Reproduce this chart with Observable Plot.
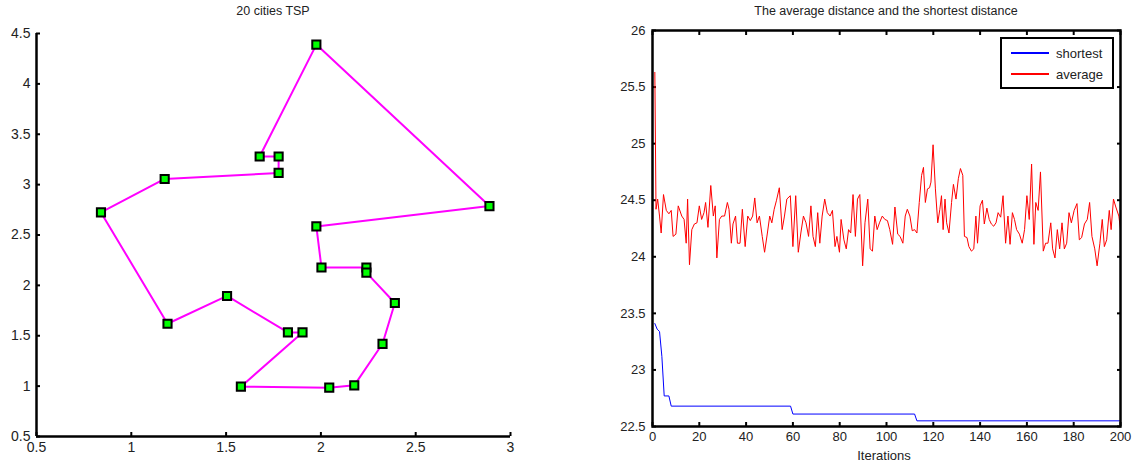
<!DOCTYPE html>
<html>
<head>
<meta charset="utf-8">
<script src="https://cdn.jsdelivr.net/npm/d3@7"></script>
<script src="https://cdn.jsdelivr.net/npm/@observablehq/plot@0.6"></script>
<style>
  html, body { margin: 0; padding: 0; background: #fff; }
  #wrap { position: relative; width: 1136px; height: 466px; font-family: "Liberation Sans", Arial, sans-serif; color: #222; }
  #wrap svg { position: absolute; top: 0; }
  .title { position: absolute; top: 4px; font-size: 12.5px; text-align: center; white-space: nowrap; transform: translateX(-50%); }
  .xlabel { position: absolute; font-size: 13px; white-space: nowrap; transform: translateX(-50%); }
  #legend { position: absolute; left: 1000px; top: 37px; width: 110px; height: 48px; border: 2px solid #000; background: #fff; font-size: 13px; }
  #legend .row { position: absolute; left: 9px; height: 16px; display: flex; align-items: center; }
  #legend .sw { width: 38px; height: 2px; margin-right: 7px; }
</style>
</head>
<body>
<div id="wrap"></div>
<script>
// ---------- Left chart: 20 cities TSP (tour order) ----------
const cityX = [1.976, 2.889, 1.976, 2.003, 2.24, 2.24, 2.39, 2.325, 2.176, 2.044,
               1.578, 1.903, 1.826, 1.505, 1.191, 0.84, 1.176, 1.777, 1.777, 1.677];
const cityY = [4.39, 2.787, 2.585, 2.177, 2.177, 2.127, 1.825, 1.42, 1.008, 0.985,
               0.995, 1.533, 1.533, 1.895, 1.619, 2.724, 3.056, 3.116, 3.279, 3.279];
const tspXTicks = [0.5, 1, 1.5, 2, 2.5, 3];
const tspYTicks = [0.5, 1, 1.5, 2, 2.5, 3, 3.5, 4, 4.5];

// ---------- Right chart: distances per iteration ----------
const shortIter = [1, 2, 3, 4, 5, 7, 8, 59, 60, 112, 113, 200];
const shortVal  = [23.41, 23.36, 23.34, 23.12, 22.77, 22.77, 22.68, 22.68, 22.61, 22.61, 22.55, 22.55];

const avgIter = [1, 1.5, 2.2, 3, 3.7, 4.7, 5.9, 7, 8, 8.8, 10, 11, 12.5, 13.5, 14.4, 15, 15.8, 16.8, 17.9, 19,
  20, 21, 22, 22.7, 23.7, 24.9, 26, 26.8, 27.5, 28.6, 29.6, 30.8, 32, 32.7, 33.7, 34.4, 35.5, 36.3, 37.4, 38.4,
  39.6, 40.7, 41.8, 42.8, 43.7, 44.7, 45.7, 46.9, 47.9, 49.1, 50.1, 51, 52, 53, 54.2, 55.4, 56.4, 57.4, 58.9, 60,
  61.2, 62.3, 63.4, 64.5, 65.6, 66.7, 67.7, 68.6, 69.6, 70.6, 71.5, 72.5, 73.6, 74.7, 75.9, 76.9, 78, 78.8, 79.9, 80.6,
  81.8, 82.8, 83.8, 84.7, 85.7, 86.7, 87.6, 88.6, 89.8, 90.8, 92, 93, 94, 95, 96, 97, 98.2, 99.3, 100.4, 101.4,
  102.6, 103.6, 104.8, 105.8, 107, 108, 108.9, 110, 111, 112, 113, 114, 115, 115.8, 116.6, 117.5, 118.4, 119, 119.9, 120.9,
  121.9, 122.8, 123.5, 124.2, 125, 125.7, 126.7, 127.8, 128.6, 129.7, 130.7, 131.6, 132.6, 133.3, 134.4, 135.2, 136.3, 137.3, 138.2, 138.9,
  140, 141, 141.8, 142.9, 143.9, 144.8, 145.8, 146.8, 147.7, 148.8, 149.8, 150.9, 151.9, 152.8, 153.8, 154.7, 155.6, 156.8, 158, 159,
  160, 161, 162, 163, 163.8, 164.8, 165.8, 167, 168, 169, 170.2, 171, 172, 173, 174, 175, 176, 177, 178, 179,
  180.2, 181.4, 182.4, 183.4, 184.6, 185.8, 186.8, 187.8, 189, 190, 191.2, 192.2, 193.1, 194.1, 195.2, 196, 197, 198, 199.3, 200];
const avgVal = [25.63, 24.42, 24.51, 24.36, 24.21, 24.55, 24.41, 24.38, 24.41, 24.18, 24.2, 24.45, 24.36, 24.33, 24.12, 24.51, 23.93, 24.24, 24.29, 24.30,
  24.45, 24.33, 24.39, 24.48, 24.26, 24.63, 24.36, 24.45, 23.99, 24.33, 24.36, 24.36, 24.48, 24.42, 24.12, 24.29, 24.36, 24.12, 24.12, 24.42,
  24.09, 24.36, 24.32, 24.36, 24.52, 24.30, 24.36, 24.18, 24.04, 24.21, 24.36, 24.30, 24.42, 24.50, 24.61, 24.24, 24.36, 24.51, 24.54, 24.09,
  24.54, 24.04, 24.21, 24.36, 24.30, 24.18, 24.45, 24.18, 24.09, 24.39, 24.12, 24.36, 24.51, 24.39, 24.36, 24.41, 24.09, 24.18, 24.04, 24.33,
  24.15, 24.07, 24.24, 24.21, 24.55, 24.18, 24.51, 24.55, 23.92, 24.30, 24.51, 24.07, 24.05, 24.36, 24.24, 24.30, 24.36, 24.33, 24.32, 24.24,
  24.11, 24.44, 24.20, 24.18, 24.12, 24.36, 24.42, 24.36, 24.23, 24.24, 24.21, 24.48, 24.72, 24.79, 24.48, 24.60, 24.61, 24.66, 24.99, 24.60,
  24.30, 24.42, 24.54, 24.24, 24.51, 24.30, 24.21, 24.48, 24.64, 24.51, 24.69, 24.78, 24.72, 24.18, 24.17, 24.09, 24.05, 24.07, 24.36, 24.12,
  24.45, 24.50, 24.29, 24.43, 24.33, 24.29, 24.27, 24.30, 24.39, 24.35, 24.54, 24.12, 24.36, 24.11, 24.39, 24.33, 24.24, 24.20, 24.12, 24.24,
  24.54, 24.33, 24.82, 24.11, 24.48, 24.41, 24.75, 24.05, 24.12, 24.12, 24.30, 24.07, 23.99, 24.24, 24.07, 24.30, 24.07, 24.12, 24.39, 24.30,
  24.41, 24.47, 24.15, 24.17, 24.29, 24.33, 24.48, 24.18, 24.07, 23.92, 24.12, 24.33, 24.09, 24.15, 24.41, 24.24, 24.51, 24.44, 24.36, 24.24];
const iterTicks = [0, 20, 40, 60, 80, 100, 120, 140, 160, 180, 200];
const distTicks = [22.5, 23, 23.5, 24, 24.5, 25, 25.5, 26];
const seriesNames = ["shortest", "average"];
const seriesColors = ["#0000ff", "#ff0000"];

const wrap = document.getElementById("wrap");

// ----- Left plot -----
const tour = cityX.map((x, i) => ({x, y: cityY[i]}));
const tourClosed = [...tour, tour[0]];

const left = Plot.plot({
  width: 540, height: 466,
  marginLeft: 36, marginRight: 30, marginTop: 33, marginBottom: 30,
  style: {fontFamily: "Liberation Sans, Arial, sans-serif", fontSize: "14px", color: "#222", background: "transparent"},
  x: {domain: [0.5, 3]},
  y: {domain: [0.5, 4.5]},
  marks: [
    Plot.axisX(tspXTicks, {label: null, tickSize: -4, tickPadding: 10, strokeWidth: 2, stroke: "#000", tickFormat: d => String(d)}),
    Plot.axisY(tspYTicks, {label: null, tickSize: -4, tickPadding: 10, strokeWidth: 2, stroke: "#000", tickFormat: d => String(d)}),
    Plot.ruleX([0.5], {stroke: "#000", strokeWidth: 2.5}),
    Plot.ruleY([0.5], {stroke: "#000", strokeWidth: 2.5}),
    Plot.line(tourClosed, {x: "x", y: "y", stroke: "#ff00ff", strokeWidth: 2}),
    Plot.dot(tour, {x: "x", y: "y", symbol: "square", r: 4.6, fill: "#00ff00", stroke: "#000", strokeWidth: 2})
  ]
});
left.style.left = "0px";
wrap.appendChild(left);

// ----- Right plot -----
const shortData = shortIter.map((it, i) => ({it, v: shortVal[i]}));
const avgData = avgIter.map((it, i) => ({it, v: avgVal[i]}));

const right = Plot.plot({
  width: 560, height: 466,
  marginLeft: 76, marginRight: 16, marginTop: 30, marginBottom: 40,
  style: {fontFamily: "Liberation Sans, Arial, sans-serif", fontSize: "13px", color: "#222", background: "transparent"},
  x: {domain: [0, 200]},
  y: {domain: [22.5, 26]},
  marks: [
    Plot.axisX(iterTicks, {anchor: "bottom", label: null, tickSize: -4, tickPadding: 9, strokeWidth: 2, stroke: "#000", tickFormat: d => String(d)}),
    Plot.axisX(iterTicks, {anchor: "top", label: null, tickSize: -4, strokeWidth: 2, stroke: "#000", tickFormat: () => ""}),
    Plot.axisY(distTicks, {anchor: "left", label: null, tickSize: -4, tickPadding: 11, strokeWidth: 2, stroke: "#000", tickFormat: d => String(d)}),
    Plot.axisY(distTicks, {anchor: "right", label: null, tickSize: -4, strokeWidth: 2, stroke: "#000", tickFormat: () => ""}),
    Plot.line(avgData, {x: "it", y: "v", stroke: seriesColors[1], strokeWidth: 1}),
    Plot.line(shortData, {x: "it", y: "v", stroke: seriesColors[0], strokeWidth: 1}),
    Plot.frame({stroke: "#000", strokeWidth: 2.5})
  ]
});
right.style.left = "576px";
wrap.appendChild(right);

// ----- Titles / labels -----
function addText(cls, text, x, y) {
  const d = document.createElement("div");
  d.className = cls; d.textContent = text;
  d.style.left = x + "px";
  if (y !== undefined) d.style.top = y + "px";
  wrap.appendChild(d);
}
addText("title", "20 cities TSP", 273);
addText("title", "The average distance and the shortest distance", 886);
addText("xlabel", "Iterations", 884, 448);

// ----- Legend -----
const leg = document.createElement("div");
leg.id = "legend";
seriesNames.forEach((name, i) => {
  const row = document.createElement("div");
  row.className = "row";
  row.style.top = (6 + i * 21) + "px";
  const sw = document.createElement("div");
  sw.className = "sw"; sw.style.background = seriesColors[i];
  const t = document.createElement("span"); t.textContent = name;
  row.appendChild(sw); row.appendChild(t);
  leg.appendChild(row);
});
wrap.appendChild(leg);
</script>
</body>
</html>
